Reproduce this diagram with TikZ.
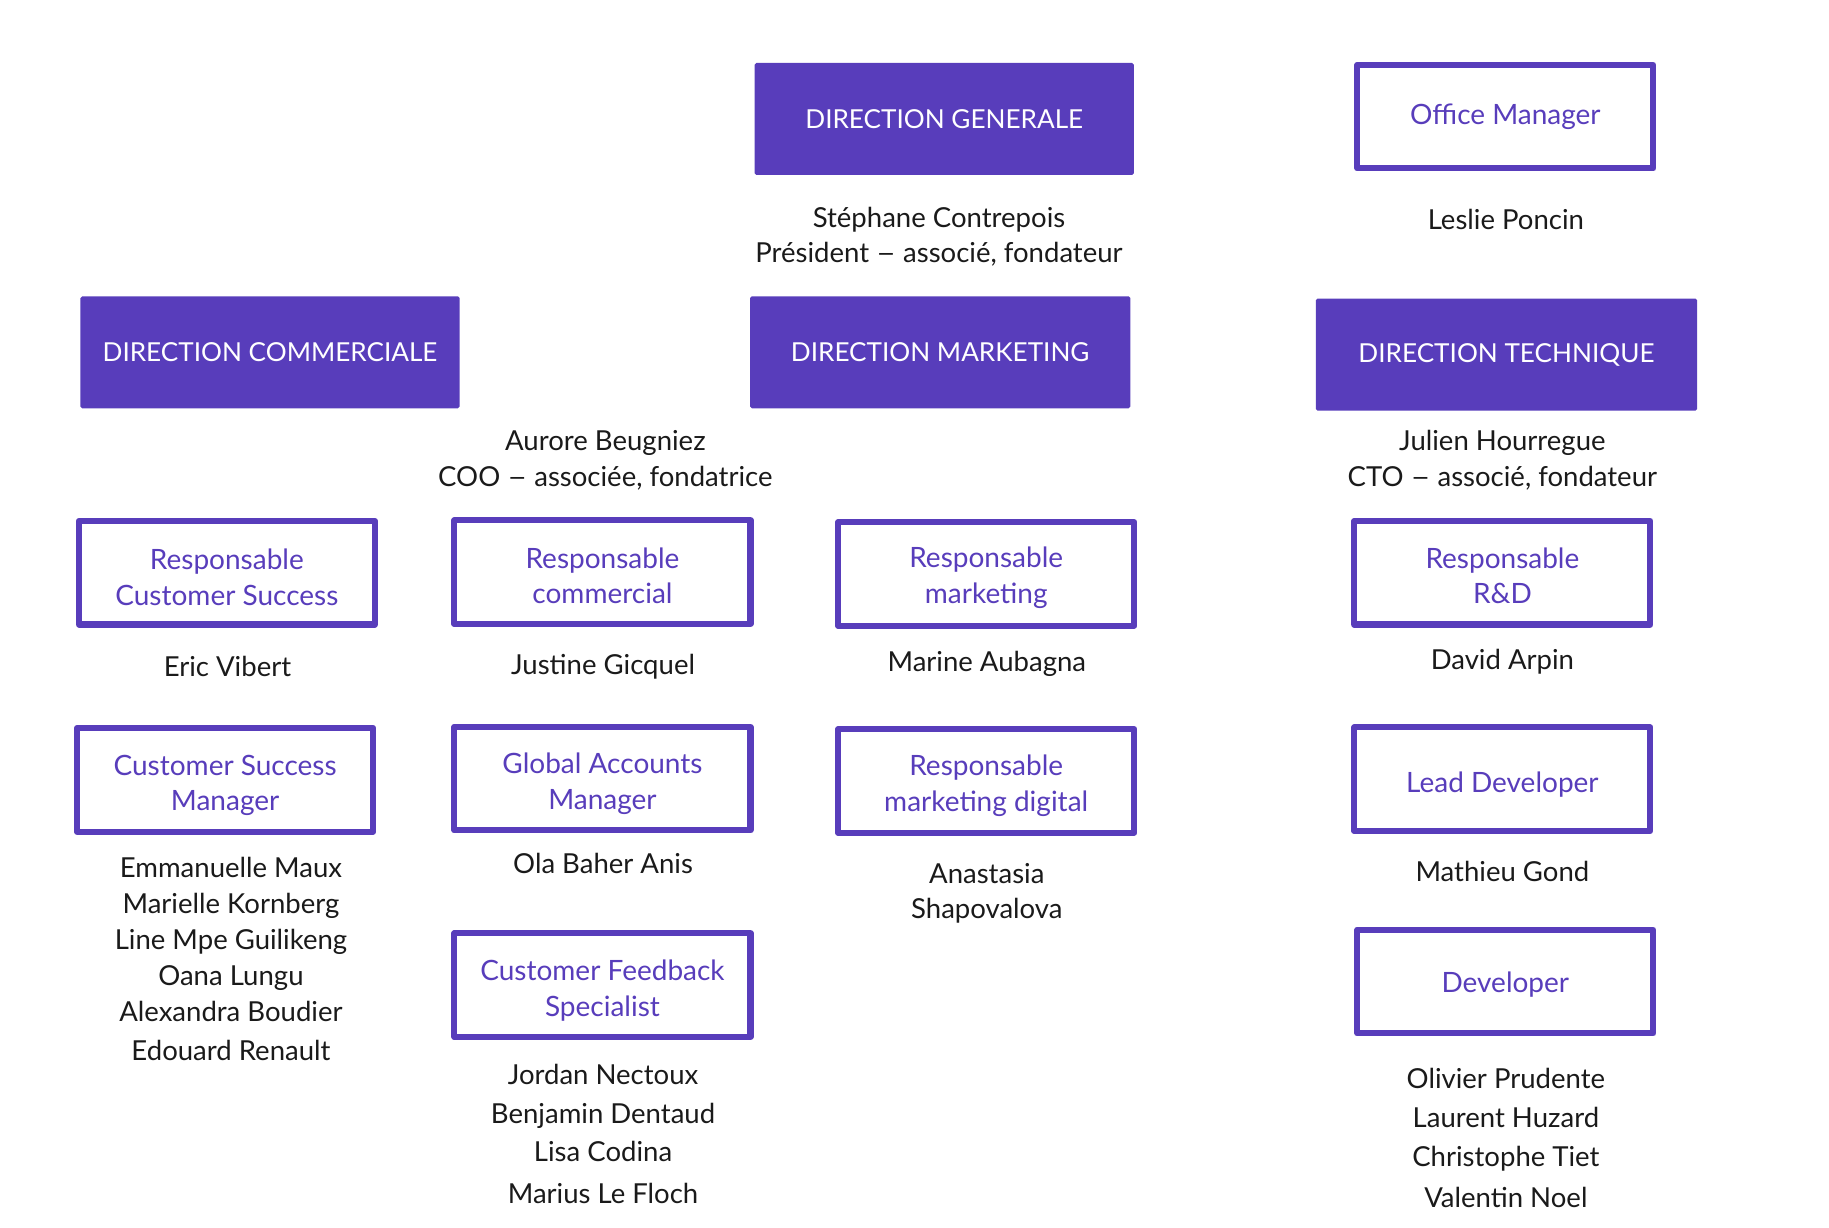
\documentclass[tikz,border=0pt]{standalone}
\usepackage{fontspec}
\setmainfont{Lato}
\definecolor{purp}{HTML}{583DBB}
\definecolor{ink}{HTML}{1A1A1A}
\newcommand{\longdash}{\scalebox{1.25}[1]{–}}
\tikzset{
  filled/.style={fill=purp, rounded corners=1.5pt, inner sep=0pt, text=white,
    font=\fontsize{22.4}{30}\selectfont, align=center,
    minimum width=325pt, minimum height=96pt},
  outlined/.style={draw=purp, line width=5.2pt, line join=round, inner sep=0pt,
    minimum width=253.8pt, minimum height=88.8pt},
  title/.style={inner sep=0pt, text=purp, font=\fontsize{24}{30.5}\selectfont, align=center},
  who/.style={anchor=base, inner sep=0pt, text=ink, font=\fontsize{23.6}{30}\selectfont},
}
\begin{document}
\begin{tikzpicture}[x=1pt,y=-1pt]
\useasboundingbox (0,0) rectangle (1568,1052);
% direction boxes
\node[filled] (dg) at (809.5,102) {DIRECTION GENERALE};
\node[filled] (dc) at (231.5,302) {DIRECTION COMMERCIALE};
\node[filled, minimum width=326pt] (dm) at (806,302) {DIRECTION MARKETING};
\node[filled, minimum width=327pt] (dt) at (1291.5,304) {DIRECTION TECHNIQUE};
% role boxes
\node[outlined] (om)  at (1290.5,100)  {};
\node[outlined] (rcs) at (194.5,491)   {};
\node[outlined] (rc)  at (516.5,490.5) {};
\node[outlined] (rm)  at (845.5,492)   {};
\node[outlined] (rrd) at (1288,491)    {};
\node[outlined] (csm) at (193,668.5)   {};
\node[outlined] (gam) at (516.5,667.5) {};
\node[outlined] (rmd) at (845.5,669.5) {};
\node[outlined] (ld)  at (1288,668)    {};
\node[outlined] (cfs) at (516.5,844.5) {};
\node[outlined] (dev) at (1290.5,841.5){};
% role titles
\node[title] (om-t)  at ([yshift=0pt]om.center)   {Office Manager};
\node[title] (rcs-t) at ([yshift=-4pt]rcs.center) {Responsable\\Customer Success};
\node[title] (rc-t)  at ([yshift=-3pt]rc.center)  {Responsable\\commercial};
\node[title] (rm-t)  at ([yshift=-3.5pt]rm.center)  {Responsable\\marketing};
\node[title] (rrd-t) at ([yshift=-2.5pt]rrd.center) {Responsable\\R\&D};
\node[title] (csm-t) at ([yshift=-5pt]csm.center) {Customer Success\\Manager};
\node[title] (gam-t) at ([yshift=-4.5pt]gam.center) {Global Accounts\\Manager};
\node[title] (rmd-t) at ([yshift=-4pt]rmd.center) {Responsable\\marketing digital};
\node[title] (ld-t)  at ([yshift=-5pt]ld.center)  {Lead Developer};
\node[title] (cfs-t) at ([yshift=-4.5pt]cfs.center) {Customer Feedback\\Specialist};
\node[title] (dev-t) at ([yshift=-2.5pt]dev.center) {Developer};
% people
\node[who] (p-dg1) at (805,195) {Stéphane Contrepois};
\node[who] (p-dg2) at (805,225) {Président \longdash{} associé, fondateur};
\node[who] (p-om)  at (1291,197) {Leslie Poncin};
\node[who] (p-coo1) at (519,386) {Aurore Beugniez};
\node[who] (p-coo2) at (519,417) {COO \longdash{} associée, fondatrice};
\node[who] (p-cto1) at (1288,386) {Julien Hourregue};
\node[who] (p-cto2) at (1288,417) {CTO \longdash{} associé, fondateur};
\node[who] (p-rcs) at (195,580) {Eric Vibert};
\node[who] (p-rc)  at (517,578) {Justine Gicquel};
\node[who] (p-rm)  at (846,576) {Marine Aubagna};
\node[who] (p-rrd) at (1288,574) {David Arpin};
\foreach \t/\y [count=\i] in {Emmanuelle Maux/744, Marielle Kornberg/775, Line Mpe Guilikeng/806,
  Oana Lungu/837, Alexandra Boudier/868, Edouard Renault/901}
  \node[who] (p-csm\i) at (198,\y+8) {\t};
\node[who] (p-gam) at (517,749) {Ola Baher Anis};
\node[who] (p-rmd1) at (846,757) {Anastasia};
\node[who] (p-rmd2) at (846,787) {Shapovalova};
\node[who] (p-ld) at (1288,756) {Mathieu Gond};
\foreach \t/\y [count=\i] in {Jordan Nectoux/922, Benjamin Dentaud/955, Lisa Codina/988, Marius Le Floch/1024}
  \node[who] (p-cfs\i) at (517,\y+8) {\t};
\foreach \t/\y [count=\i] in {Olivier Prudente/925, Laurent Huzard/959, Christophe Tiet/992, Valentin Noel/1027}
  \node[who] (p-dev\i) at (1291,\y+8) {\t};
\end{tikzpicture}
\end{document}
